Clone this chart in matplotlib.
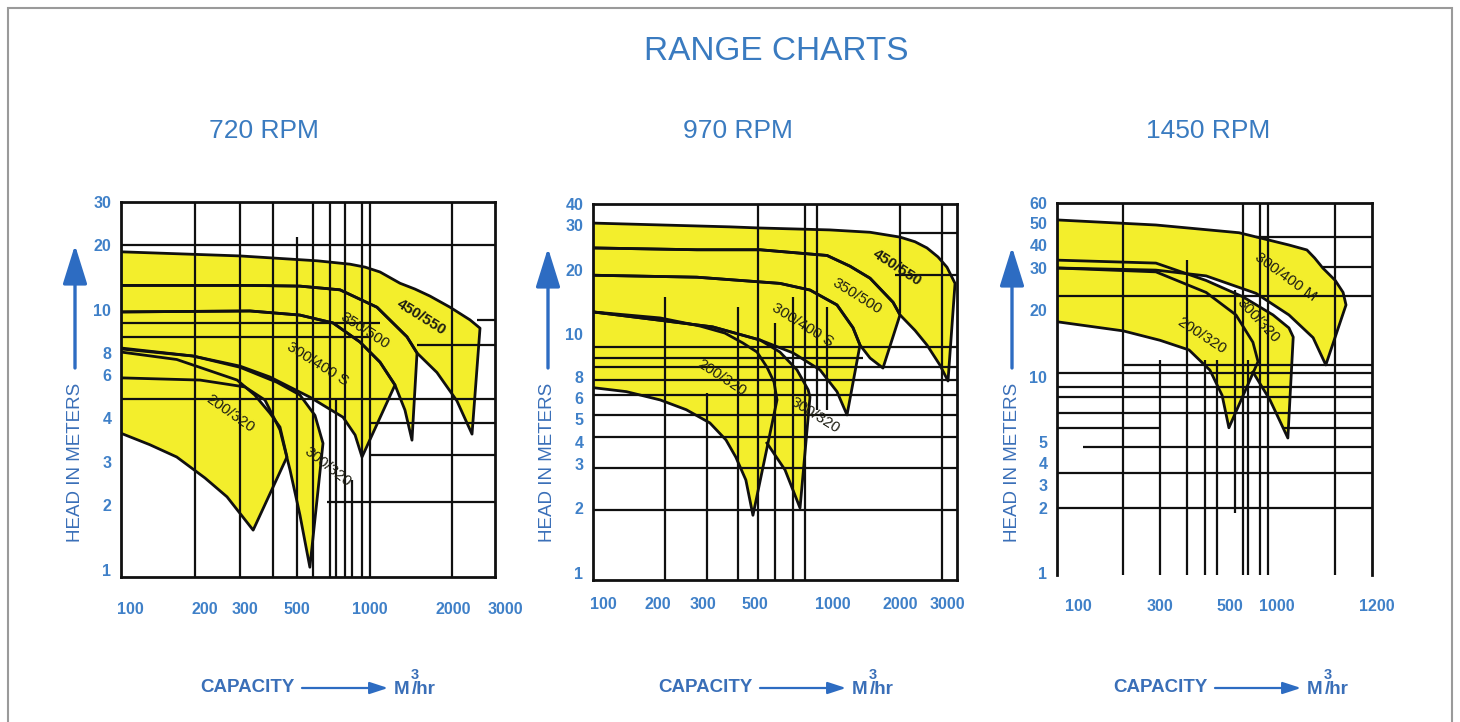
import numpy as np
import matplotlib.pyplot as plt
from matplotlib.patches import Rectangle, FancyArrowPatch
from matplotlib.ticker import NullLocator

plt.rcParams['font.family'] = ['Liberation Sans', 'DejaVu Sans']

TITLE = "RANGE CHARTS"
SPEEDS = ["720 RPM", "970 RPM", "1450 RPM"]

# ---------------------------------------------------------------- 720 RPM
P1_YTICKS = [1, 2, 3, 4, 6, 8, 10, 20, 30]
P1_XTICKS = [100, 200, 300, 500, 1000, 2000, 3000]
P1_NAMES = ["450/550", "350/500", "300/400 S", "300/320", "200/320"]

P1_450_TOP_Q = [92, 285, 605, 827, 954, 1087, 1285, 1456, 1650, 1951, 2282, 2466]
P1_450_TOP_H = [18.6, 17.8, 16.9, 16.3, 15.8, 15.0, 13.3, 12.5, 11.6, 10.3, 9.5, 9.1]
P1_450_BOT_Q = [92, 315, 514, 752, 1060, 1362, 1481, 1749, 2062, 2318]
P1_450_BOT_H = [13.0, 13.0, 12.9, 12.4, 10.3, 8.7, 8.0, 6.2, 4.7, 3.6]

P1_350_TOP_Q = [92, 315, 514, 752, 1060, 1362, 1481]
P1_350_TOP_H = [13.0, 13.0, 12.9, 12.4, 10.3, 8.7, 8.0]
P1_350_BOT_Q = [92, 315, 514, 704, 909, 1087, 1232, 1339, 1420]
P1_350_BOT_H = [9.9, 9.95, 9.74, 9.35, 8.47, 7.1, 5.46, 4.31, 3.46]

P1_300S_TOP_Q = [92, 315, 514, 704, 909, 1087, 1232]
P1_300S_TOP_H = [9.9, 9.95, 9.74, 9.35, 8.47, 7.1, 5.46]
P1_300S_BOT_Q = [92, 179, 285, 383, 565, 774, 868, 927]
P1_300S_BOT_H = [8.21, 7.69, 6.74, 5.89, 4.87, 4.03, 3.58, 3.10]

P1_300_TOP_Q = [92, 179, 285, 411, 514, 593, 640]
P1_300_TOP_H = [8.17, 7.69, 6.64, 5.6, 4.97, 4.1, 3.39]
P1_300_BOT_Q = [92, 191, 300, 365, 423, 467, 514, 565]
P1_300_BOT_H = [5.84, 5.72, 5.36, 4.74, 3.7, 2.78, 1.8, 1.03]

P1_200_TOP_Q = [92, 154, 277, 330, 383, 423, 453]
P1_200_TOP_H = [8.04, 7.35, 5.72, 4.97, 4.19, 3.77, 3.10]
P1_200_BOT_Q = [92, 120, 154, 200, 250, 325]
P1_200_BOT_H = [3.62, 3.36, 3.10, 2.58, 2.16, 1.53]

P1_LABEL_Q = [1531, 954, 611, 671, 258]
P1_LABEL_H = [9.64, 8.97, 6.9, 2.86, 4.19]

P1_VQ = [182, 285, 395, 500, 582, 684, 724, 789, 843, 927, 1000, 1984]
P1_VLO = [0.93, 0.93, 0.93, 0.93, 0.93, 0.93, 0.93, 0.93, 0.93, 0.93, 0.93, 0.93]
P1_VHI = [30, 30, 30, 21.6, 30, 30, 4.74, 30, 2.53, 30, 30, 30]
P1_HH = [20, 9.5, 9.35, 8.7, 8.34, 4.8, 3.87, 3.14, 2.06]
P1_HLO = [92, 2400, 92, 92, 1481, 92, 1000, 1000, 667]
P1_HHI = [2770, 2770, 1087, 1000, 2770, 2770, 2770, 2770, 2770]

# ---------------------------------------------------------------- 970 RPM
P2_YTICKS = [1, 2, 3, 4, 5, 6, 8, 10, 20, 30, 40]
P2_XTICKS = [100, 200, 300, 500, 1000, 2000, 3000]
P2_NAMES = ["450/550", "350/500", "300/400 S", "300/320", "200/320"]

P2_450_TOP_Q = [88, 391, 523, 973, 1467, 2000, 2276, 2524, 2776, 3000, 3215]
P2_450_TOP_H = [30.8, 29.5, 29.2, 28.7, 28.1, 26.9, 25.8, 24.4, 22.5, 20.5, 17.3]
P2_450_BOT_Q = [88, 284, 523, 948, 1192, 1467, 1861, 2000, 2276, 2524, 2823, 3026]
P2_450_BOT_H = [24.4, 24.0, 24.0, 22.8, 20.7, 18.3, 14.1, 12.3, 10.4, 9.44, 8.5, 7.55]

P2_350_TOP_Q = [88, 284, 523, 948, 1192, 1467, 1861, 2000]
P2_350_TOP_H = [24.4, 24.0, 24.0, 22.8, 20.7, 18.3, 14.1, 12.3]
P2_350_BOT_Q = [88, 284, 624, 815, 1042, 1230, 1322, 1467, 1677]
P2_350_BOT_H = [18.9, 18.5, 17.3, 16.1, 13.7, 10.7, 9.44, 8.82, 8.37]

P2_300S_TOP_Q = [88, 284, 624, 815, 1042, 1230, 1322]
P2_300S_TOP_H = [18.9, 18.5, 17.3, 16.1, 13.7, 10.7, 9.44]
P2_300S_BOT_Q = [88, 204, 330, 523, 701, 891, 1042, 1156]
P2_300S_BOT_H = [12.7, 11.6, 10.8, 9.69, 9.06, 8.29, 6.54, 5.18]

P2_300_TOP_Q = [88, 204, 330, 523, 624, 726, 802, 815]
P2_300_TOP_H = [12.7, 11.6, 10.8, 9.69, 9.1, 8.29, 6.7, 6.08]
P2_300_BOT_Q = [556, 653, 746]
P2_300_BOT_H = [3.93, 2.84, 2.0]

P2_200_TOP_Q = [88, 204, 292, 372, 444, 509, 556, 592, 608]
P2_200_TOP_H = [12.7, 11.9, 10.9, 10.1, 9.54, 9.1, 8.41, 7.45, 5.9]
P2_200_BOT_Q = [88, 134, 204, 258, 321, 376, 414, 457, 490]
P2_200_BOT_H = [6.9, 6.54, 5.9, 5.42, 4.81, 4.07, 3.28, 2.59, 1.85]

P2_LABEL_Q = [1939, 1282, 766, 851, 361]
P2_LABEL_H = [20.5, 15.1, 11.0, 5.18, 7.86]

P2_VQ = [213, 312, 423, 513, 595, 701, 779, 867, 948, 2000, 2874]
P2_VLO = [0.925, 0.925, 0.925, 0.925, 0.925, 0.925, 0.925, 5.4, 5.4, 12.5, 0.925]
P2_VHI = [14.9, 6.42, 13.4, 40, 11.3, 14.9, 40, 40, 13.4, 40, 40]
P2_HH = [28.0, 19.0, 9.34, 8.82, 8.4, 7.65, 6.26, 5.18, 4.19, 2.89, 1.96]
P2_HLO = [2000, 1900, 88, 88, 88, 88, 88, 88, 88, 88, 88]
P2_HHI = [3270, 3270, 3270, 1364, 3270, 3270, 3270, 3270, 3270, 3270, 3270]

# ---------------------------------------------------------------- 1450 RPM
P3_YTICKS = [1, 2, 3, 4, 5, 10, 20, 30, 40, 50, 60]
P3_XTICKS = [100, 300, 500, 1000, 1200]
P3_NAMES = ["300/400 M", "300/320", "200/320"]

P3_300M_TOP_Q = [75, 284, 571, 1022, 1056, 1071, 1087, 1112, 1128, 1134]
P3_300M_TOP_H = [51.4, 49.0, 45.3, 40.0, 37.6, 34.0, 30.0, 26.6, 23.7, 21.0]
P3_300M_BOT_Q = [75, 284, 420, 733, 1022, 1068, 1093]
P3_300M_BOT_H = [30.0, 29.4, 27.8, 23.5, 19.0, 15.0, 11.3]

P3_300_TOP_Q = [75, 284, 420, 606, 943, 1022, 1030]
P3_300_TOP_H = [33.1, 31.9, 26.6, 22.7, 19.0, 16.6, 15.1]
P3_300_BOT_Q = [701, 902, 1020]
P3_300_BOT_H = [10.5, 7.8, 5.2]

P3_200_TOP_Q = [75, 284, 420, 546, 701, 756]
P3_200_TOP_H = [30.0, 28.9, 23.7, 19.0, 14.3, 11.7]
P3_200_BOT_Q = [75, 183, 300, 371, 432, 472, 496]
P3_200_BOT_H = [17.7, 16.1, 14.6, 13.2, 10.7, 8.2, 5.8]

P3_LABEL_Q = [1015, 756, 405]
P3_LABEL_H = [27.5, 18.0, 15.3]

P3_VQ = [183, 300, 365, 418, 455, 538, 606, 652, 778, 877, 1112]
P3_VLO = [0.98, 0.98, 0.98, 0.98, 0.98, 1.9, 0.98, 0.98, 0.98, 0.98, 0.98]
P3_VHI = [60, 11.9, 33, 11.9, 11.9, 24.3, 60, 11.9, 60, 60, 60]
P3_HH = [43.3, 30.4, 22.9, 11.3, 10.4, 8.96, 8.05, 6.79, 5.79, 5.79, 4.73, 3.51, 2.0]
P3_HLO = [733, 1087, 75, 183, 75, 75, 75, 75, 75, 1011, 107, 75, 75]
P3_HHI = [1189, 1189, 1189, 1189, 1189, 1189, 1189, 1189, 300, 1189, 1189, 1189, 1189]

# ---------------------------------------------------------------- style
W, H = 1460, 722
TITLE_BLUE = '#3a7bc0'
TICK_BLUE = '#3f80c8'
TEXT_BLUE = '#3a6fb8'
ARROW_BLUE = '#2d6cc2'
YELLOW = '#f3ee2c'
INK = '#101010'


def log_map(values, pixels):
    # the printed scales are only roughly logarithmic, so the axis follows
    # the positions where the scan prints its tick labels
    lv = np.log10(np.asarray(values, float))
    px = np.asarray(pixels, float)
    if px[0] > px[-1]:
        px = -px

    def fwd(v):
        v = np.clip(np.asarray(v, float), 1e-3, None)
        return np.interp(np.log10(v), lv, px)

    def inv(p):
        return 10 ** np.interp(np.asarray(p, float), px, lv)

    return fwd, inv


fig = plt.figure(figsize=(W / 100, H / 100), dpi=100)


def fx(x):
    return x / W


def fy(y):
    return 1 - y / H


def draw_panel(box, xmap, ymap, xlim, ylim, yticks, xticks, xlab_y, regions,
               names, lab_q, lab_h, rots, weights, vgrid, hgrid, bottom=True):
    l, t, r, b = box
    ax = fig.add_axes([fx(l), fy(b), (r - l) / W, (b - t) / H])
    ax.set_xscale('function', functions=log_map(*xmap))
    ax.set_yscale('function', functions=log_map(*ymap))
    ax.set_xlim(*xlim)
    ax.set_ylim(*ylim)

    ax.set_yticks(yticks, [str(v) for v in yticks])
    ax.yaxis.set_minor_locator(NullLocator())
    ax.xaxis.set_minor_locator(NullLocator())
    ax.set_xticks([])
    ax.tick_params(axis='y', length=0, pad=7, labelsize=11.5, labelcolor=TICK_BLUE)
    for tl in ax.get_yticklabels():
        tl.set_fontweight('bold')
    for v in xticks:
        ax.text(v, xlab_y, str(v), transform=ax.get_xaxis_transform(),
                ha='center', va='center', fontsize=11.5, fontweight='bold',
                color=TICK_BLUE, clip_on=False)

    for s in ax.spines.values():
        s.set_linewidth(2)
        s.set_color(INK)
    if not bottom:
        ax.spines['bottom'].set_visible(False)

    for tq, th, bq, bh in regions:
        qs = list(tq) + list(bq)[::-1]
        hs = list(th) + list(bh)[::-1]
        ax.fill(qs, hs, color=YELLOW, lw=0, zorder=1)
        ax.plot(qs, hs, color=INK, lw=2.0, zorder=3, solid_joinstyle='round')

    vq, vlo, vhi = vgrid
    ax.vlines(vq, vlo, vhi, color=INK, lw=1.6, zorder=2)
    hh, hlo, hhi = hgrid
    ax.hlines(hh, hlo, hhi, color=INK, lw=1.6, zorder=2)

    for name, q, h, rot, wt in zip(names, lab_q, lab_h, rots, weights):
        ax.text(q, h, name, rotation=rot, rotation_mode='anchor', ha='center',
                va='center', fontsize=11, fontweight=wt, color='#1d1d12', zorder=4)
    return ax


draw_panel((121, 201.7, 495, 577),
           ([92, 100, 200, 300, 500, 1000, 2000, 2770, 3000],
            [121, 130, 205, 245, 297, 370, 453, 495, 505]),
           ([0.93, 1, 2, 3, 4, 6, 8, 10, 20, 30],
            [577, 570, 505, 462, 418, 375, 353, 310, 245, 201.7]),
           (92, 2770), (0.93, 30), P1_YTICKS, P1_XTICKS, -0.087,
           [(P1_450_TOP_Q, P1_450_TOP_H, P1_450_BOT_Q, P1_450_BOT_H),
            (P1_350_TOP_Q, P1_350_TOP_H, P1_350_BOT_Q, P1_350_BOT_H),
            (P1_300S_TOP_Q, P1_300S_TOP_H, P1_300S_BOT_Q, P1_300S_BOT_H),
            (P1_300_TOP_Q, P1_300_TOP_H, P1_300_BOT_Q, P1_300_BOT_H),
            (P1_200_TOP_Q, P1_200_TOP_H, P1_200_BOT_Q, P1_200_BOT_H)],
           P1_NAMES, P1_LABEL_Q, P1_LABEL_H, [-32, -33, -32, -38, -35],
           ['bold', 'normal', 'normal', 'normal', 'normal'],
           (P1_VQ, P1_VLO, P1_VHI), (P1_HH, P1_HLO, P1_HHI))

draw_panel((593, 204, 957, 580),
           ([88, 100, 200, 300, 500, 1000, 2000, 3000, 3270],
            [593, 603, 658, 703, 755, 833, 900, 947, 957]),
           ([0.925, 1, 2, 3, 4, 5, 6, 8, 10, 20, 30, 40],
            [580, 572.7, 508, 464, 441.7, 419, 398, 376.7, 334, 270, 225, 204]),
           (88, 3270), (0.925, 40), P2_YTICKS, P2_XTICKS, -0.064,
           [(P2_450_TOP_Q, P2_450_TOP_H, P2_450_BOT_Q, P2_450_BOT_H),
            (P2_350_TOP_Q, P2_350_TOP_H, P2_350_BOT_Q, P2_350_BOT_H),
            (P2_300S_TOP_Q, P2_300S_TOP_H, P2_300S_BOT_Q, P2_300S_BOT_H),
            (P2_300_TOP_Q, P2_300_TOP_H, P2_300_BOT_Q, P2_300_BOT_H),
            (P2_200_TOP_Q, P2_200_TOP_H, P2_200_BOT_Q, P2_200_BOT_H)],
           P2_NAMES, P2_LABEL_Q, P2_LABEL_H, [-33, -32, -32, -32, -33],
           ['bold', 'normal', 'normal', 'normal', 'normal'],
           (P2_VQ, P2_VLO, P2_VHI), (P2_HH, P2_HLO, P2_HHI))

draw_panel((1057, 202.7, 1372, 575),
           ([75, 100, 300, 500, 1000, 1189, 1200],
            [1057, 1078, 1160, 1230, 1277, 1372, 1377]),
           ([0.98, 1, 2, 3, 4, 5, 10, 20, 30, 40, 50, 60],
            [575, 573, 508, 485, 463, 441.7, 376.7, 310, 268, 245, 223, 202.7]),
           (75, 1189), (0.98, 60), P3_YTICKS, P3_XTICKS, -0.085,
           [(P3_300M_TOP_Q, P3_300M_TOP_H, P3_300M_BOT_Q, P3_300M_BOT_H),
            (P3_300_TOP_Q, P3_300_TOP_H, P3_300_BOT_Q, P3_300_BOT_H),
            (P3_200_TOP_Q, P3_200_TOP_H, P3_200_BOT_Q, P3_200_BOT_H)],
           P3_NAMES, P3_LABEL_Q, P3_LABEL_H, [-36, -47, -33],
           ['normal', 'normal', 'normal'],
           (P3_VQ, P3_VLO, P3_VHI), (P3_HH, P3_HLO, P3_HHI), bottom=False)

# titles
fig.text(fx(776), fy(52), TITLE, ha='center', va='center', fontsize=24,
         color=TITLE_BLUE)
for name, xc in zip(SPEEDS, [264, 738, 1208]):
    fig.text(fx(xc), fy(131), name, ha='center', va='center', fontsize=19,
             color=TITLE_BLUE)

# y-axis captions with upward arrows
for xc, tip in zip([75, 548, 1012], [245, 248, 247]):
    fig.text(fx(xc), fy(462), "HEAD IN METERS", rotation=90, ha='center',
             va='center', fontsize=13.5, color=TEXT_BLUE)
    fig.add_artist(FancyArrowPatch((fx(xc), fy(368)), (fx(xc), fy(tip)),
                                   transform=fig.transFigure,
                                   arrowstyle='-|>,head_length=24,head_width=7.5',
                                   mutation_scale=1, lw=2.4, color=ARROW_BLUE,
                                   shrinkA=0, shrinkB=0))

# x-axis captions
for x0 in [200, 658, 1113]:
    fig.text(fx(x0), fy(688), "CAPACITY", ha='left', va='center', fontsize=13.5,
             fontweight='bold', color=TEXT_BLUE)
    fig.add_artist(FancyArrowPatch((fx(x0 + 102), fy(688)), (fx(x0 + 188), fy(688)),
                                   transform=fig.transFigure,
                                   arrowstyle='-|>,head_length=11,head_width=3.6',
                                   mutation_scale=1, lw=1.6, color=ARROW_BLUE,
                                   shrinkA=0, shrinkB=0))
    fig.text(fx(x0 + 194), fy(689), "M", ha='left', va='center', fontsize=13.5,
             fontweight='bold', color=TEXT_BLUE)
    fig.text(fx(x0 + 211), fy(675), "3", ha='left', va='center', fontsize=10.5,
             fontweight='bold', color=TEXT_BLUE)
    fig.text(fx(x0 + 212), fy(689), "/hr", ha='left', va='center', fontsize=13.5,
             fontweight='bold', color=TEXT_BLUE)

# scan frame
fig.add_artist(Rectangle((fx(8), -0.02), (1452 - 8) / W, fy(8) + 0.02,
                         transform=fig.transFigure, fill=False,
                         edgecolor='#9a9a9a', lw=1.5))

fig.savefig("out.png", dpi=100)
